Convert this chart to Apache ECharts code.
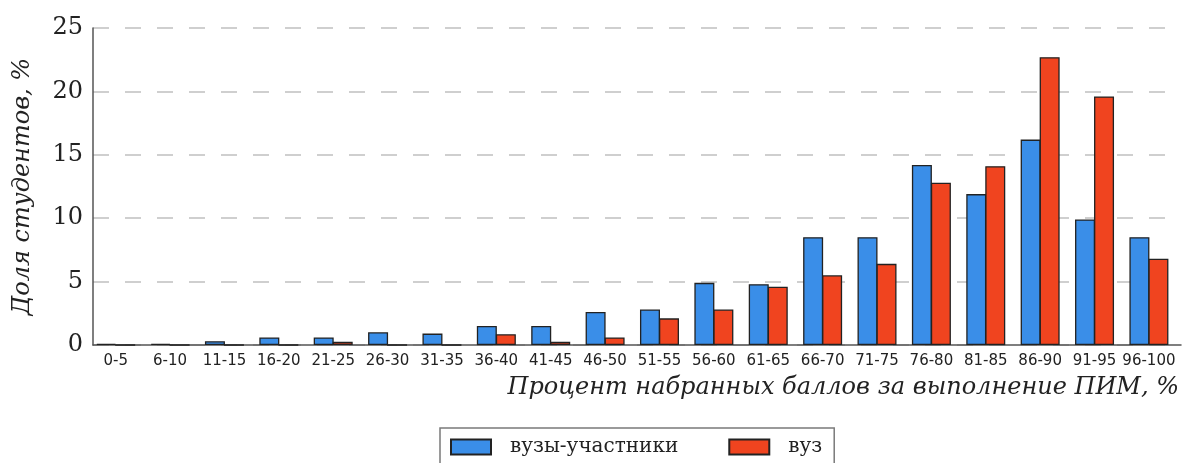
<!DOCTYPE html>
<html>
<head>
<meta charset="utf-8">
<script src="https://cdn.jsdelivr.net/npm/echarts@6/dist/echarts.min.js"></script>
<style>
html,body{margin:0;padding:0;background:#fff;}
#chart{width:1182px;height:463px;}
</style>
</head>
<body>
<div id="chart"></div>
<script>
const categories = ['0-5','6-10','11-15','16-20','21-25','26-30','31-35','36-40','41-45','46-50','51-55','56-60','61-65','66-70','71-75','76-80','81-85','86-90','91-95','96-100'];
const seriesNames = ['вузы-участники', 'вуз'];
const participants = [0.1, 0.1, 0.3, 0.6, 0.6, 1.0, 0.9, 1.5, 1.5, 2.6, 2.8, 4.9, 4.8, 8.5, 8.5, 14.2, 11.9, 16.2, 9.9, 8.5];
const university = [0, 0, 0, 0, 0.25, 0, 0, 0.85, 0.25, 0.6, 2.1, 2.8, 4.6, 5.5, 6.4, 12.8, 14.1, 22.7, 19.6, 6.8];
const yTicks = [0, 5, 10, 15, 20, 25];

const serif = '"DejaVu Serif", "Liberation Serif", serif';
const chart = echarts.init(document.getElementById('chart'), null, {renderer: 'canvas'});
const idx = categories.map((_, i) => i);

chart.setOption({
  animation: false,
  backgroundColor: '#ffffff',
  grid: {left: 93, right: 0, top: 28, bottom: 118, containLabel: false},
  legend: {
    left: 440, top: 428,
    padding: [9, 12, 9, 10],
    itemGap: 50,
    itemWidth: 40, itemHeight: 15,
    icon: 'rect',
    borderColor: '#7a7a7a', borderWidth: 1.5, borderRadius: 0,
    textStyle: {fontFamily: serif, fontSize: 20, color: '#222', padding: [0, 0, 0, 14]},
    data: seriesNames
  },
  xAxis: {
    type: 'value',
    min: -0.417, max: 19.59,
    name: 'Процент набранных баллов за выполнение ПИМ, %',
    nameLocation: 'end',
    nameGap: 0,
    nameTextStyle: {fontFamily: serif, fontStyle: 'italic', fontSize: 24, color: '#222',
      align: 'right', verticalAlign: 'top', padding: [31, 2, 0, 0]},
    axisLine: {show: true, onZero: false, lineStyle: {color: '#555', width: 1.5}},
    axisTick: {show: false},
    splitLine: {show: false},
    axisLabel: {
      customValues: idx,
      formatter: v => categories[Math.round(v)],
      fontFamily: '"DejaVu Sans", sans-serif', fontSize: 15, color: '#222', margin: 9
    }
  },
  yAxis: {
    type: 'value',
    min: 0, max: 25, interval: 5,
    name: 'Доля студентов, %',
    nameLocation: 'middle',
    nameGap: 58,
    nameTextStyle: {fontFamily: serif, fontStyle: 'italic', fontSize: 24, color: '#222'},
    axisLine: {show: true, onZero: false, lineStyle: {color: '#555', width: 1.5}},
    axisTick: {show: false},
    axisLabel: {fontFamily: serif, fontSize: 24, color: '#222', margin: 10,
      formatter: v => yTicks.includes(v) ? String(v) : ''},
    splitLine: {show: true, lineStyle: {color: '#cfcfcf', width: 2, type: [16, 16]}}
  },
  series: [
    {
      name: seriesNames[0], type: 'bar', barWidth: 20, barGap: '-5%', clip: false,
      itemStyle: {color: '#3a8ee8', borderColor: '#222', borderWidth: 1.3},
      data: participants.map((v, i) => [i, v])
    },
    {
      name: seriesNames[1], type: 'bar', barWidth: 20, barGap: '-5%', clip: false,
      itemStyle: {color: '#f0441f', borderColor: '#222', borderWidth: 1.3},
      data: university.map((v, i) => [i, v])
    }
  ]
});
</script>
</body>
</html>
